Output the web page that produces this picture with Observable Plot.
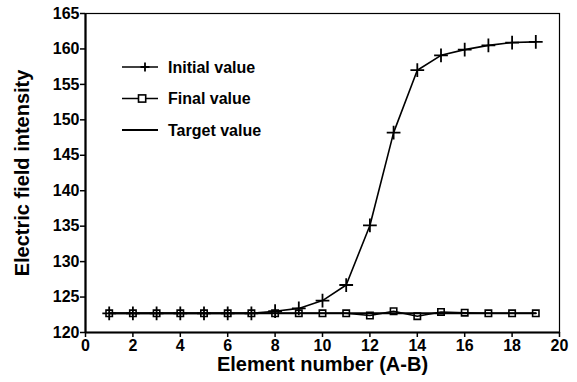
<!DOCTYPE html>
<html>
<head>
<meta charset="utf-8">
<script src="https://cdn.jsdelivr.net/npm/d3@7"></script>
<script src="https://cdn.jsdelivr.net/npm/@observablehq/plot@0.6"></script>
<style>
  html, body { margin: 0; padding: 0; background: #fff; }
  #chart { position: relative; width: 577px; height: 382px; }
  svg { font-family: "Liberation Sans", Arial, Helvetica, sans-serif; }
</style>
</head>
<body>
<div id="chart"></div>
<script>
const elements = [1, 2, 3, 4, 5, 6, 7, 8, 9, 10, 11, 12, 13, 14, 15, 16, 17, 18, 19];
const initialValues = [122.7, 122.7, 122.7, 122.7, 122.7, 122.7, 122.7, 123.0, 123.4, 124.5, 126.7, 135.1, 148.2, 157.0, 159.1, 159.9, 160.5, 160.9, 161.0];
const finalValues = [122.7, 122.7, 122.7, 122.7, 122.7, 122.7, 122.7, 122.7, 122.7, 122.7, 122.7, 122.4, 123.0, 122.3, 122.9, 122.8, 122.7, 122.7, 122.7];
const targetValues = [122.7, 122.7, 122.7, 122.7, 122.7, 122.7, 122.7, 122.7, 122.7, 122.7, 122.7, 122.7, 122.7, 122.7, 122.7, 122.7, 122.7, 122.7, 122.7];
const xTicks = [0, 2, 4, 6, 8, 10, 12, 14, 16, 18, 20];
const yTicks = [120, 125, 130, 135, 140, 145, 150, 155, 160, 165];
const seriesNames = ["Initial value", "Final value", "Target value"];
const xLabel = "Element number (A-B)";
const yLabel = "Electric field intensity";

const initialData = elements.map((e, i) => ({x: e, y: initialValues[i]}));
const finalData = elements.map((e, i) => ({x: e, y: finalValues[i]}));
const targetData = elements.map((e, i) => ({x: e, y: targetValues[i]}));

const chart = Plot.plot({
  width: 577,
  height: 382,
  marginLeft: 85,
  marginRight: 18,
  marginTop: 13,
  marginBottom: 50,
  style: {fontFamily: '"Liberation Sans", Arial, sans-serif', background: "#fff"},
  x: {domain: [0, 20]},
  y: {domain: [120, 165]},
  marks: [
    Plot.frame({stroke: "#000", strokeWidth: 1.2}),
    Plot.ruleX([0], {stroke: "#000", strokeWidth: 2.2}),
    Plot.ruleY([120], {stroke: "#000", strokeWidth: 2.2}),
    Plot.axisX({ticks: xTicks, tickSize: 5, tickPadding: 2, fontSize: 16, fontWeight: "bold", label: null, strokeWidth: 1.5}),
    Plot.axisY({ticks: yTicks, tickSize: 5, tickPadding: 1, fontSize: 16, fontWeight: "bold", label: null, strokeWidth: 1.5}),
    Plot.text([xLabel], {text: d => d, frameAnchor: "bottom", textAnchor: "middle", dy: 38, fontSize: 20, fontWeight: "bold", letterSpacing: 0.6}),
    Plot.text([yLabel], {text: d => d, frameAnchor: "left", textAnchor: "middle", dx: -63, rotate: -90, fontSize: 20, fontWeight: "bold", letterSpacing: 0.4}),
    Plot.line(targetData, {x: "x", y: "y", stroke: "#000", strokeWidth: 2}),
    Plot.line(finalData, {x: "x", y: "y", stroke: "#000", strokeWidth: 1.5}),
    Plot.dot(finalData, {x: "x", y: "y", symbol: "square", r: 3.6, fill: "none", stroke: "#000", strokeWidth: 1.6}),
    Plot.line(initialData, {x: "x", y: "y", stroke: "#000", strokeWidth: 1.6}),
    Plot.dot(initialData, {x: "x", y: "y", symbol: "plus", r: 4.5, stroke: "#000", strokeWidth: 1.8})
  ]
});
document.getElementById("chart").appendChild(chart);

// Legend inside the plot area
const svg = d3.select(chart);
const legend = svg.append("g").attr("transform", "translate(122,67)").attr("text-anchor", "start");
const rowGap = 31.5;
seriesNames.forEach((name, i) => {
  const g = legend.append("g").attr("transform", `translate(0,${i * rowGap})`);
  g.append("line").attr("x1", 0).attr("x2", 36).attr("y1", 0).attr("y2", 0)
    .attr("stroke", "#000").attr("stroke-width", i === 2 ? 2 : 1.6);
  if (i === 0) {
    g.append("path").attr("d", "M23,-4.5V4.5M18.5,0H27.5").attr("stroke", "#000").attr("stroke-width", 1.8);
  } else if (i === 1) {
    g.append("rect").attr("x", 16.5).attr("y", -3.6).attr("width", 7.2).attr("height", 7.2)
      .attr("fill", "#fff").attr("stroke", "#000").attr("stroke-width", 1.6);
  }
  g.append("text").attr("x", 46).attr("y", 0).attr("dy", "0.35em").attr("text-anchor", "start")
    .attr("font-size", 16).attr("font-weight", "bold").attr("fill", "#000").text(name);
});
</script>
</body>
</html>
